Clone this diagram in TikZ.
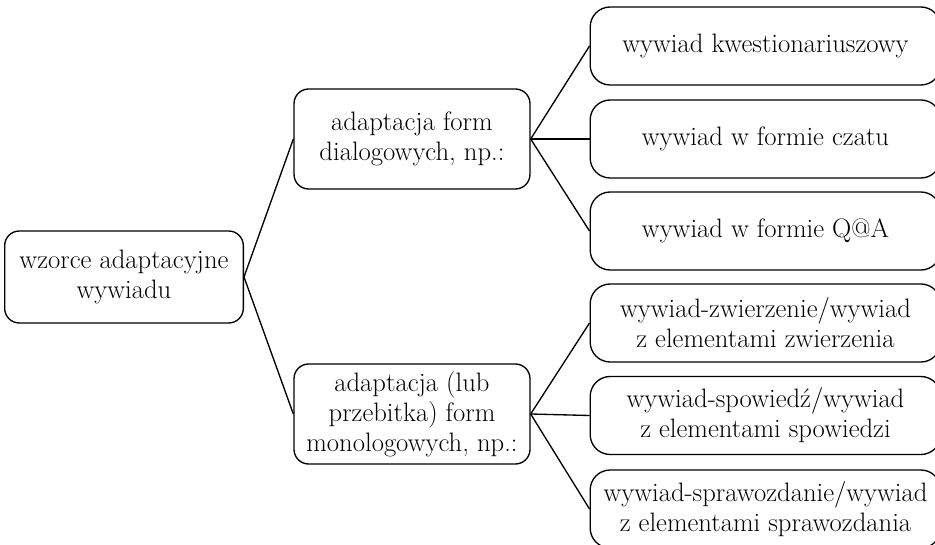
\documentclass[tikz,border=0pt]{standalone}
\usepackage{fontspec}
\usetikzlibrary{positioning}

\tikzset{
  box/.style={draw, rounded corners=11pt, align=center, inner sep=0pt, line width=1pt,
    font=\fontsize{20}{22.5}\selectfont},
  rootbox/.style={box, minimum width=179pt, minimum height=69pt},
  midbox/.style={box, minimum width=177pt, minimum height=75pt},
  leafbox/.style={box, rounded corners=15pt, minimum width=263pt, minimum height=58.5pt},
  link/.style={line width=1pt}
}

\begin{document}
\begin{tikzpicture}[x=0.75pt, y=-0.75pt]
\useasboundingbox (0,0) rectangle (935,545);

\node[rootbox] (wzorce) at (124,277) {wzorce adaptacyjne\\wywiadu};

\node[midbox] (dialog) at (412,139) {adaptacja form\\dialogowych, np.:};
\node[midbox] (monolog) at (412,414) {adaptacja (lub\\przebitka) form\\monologowych, np.:};

\node[leafbox] (kwest) at (765.5,46) {wywiad kwestionariuszowy};
\node[leafbox] (czat) at (765.5,139) {wywiad w formie czatu};
\node[leafbox] (qa) at (765.5,231) {wywiad w formie Q@A};
\node[leafbox] (zwierz) at (765.5,323) {wywiad-zwierzenie/wywiad\\z elementami zwierzenia};
\node[leafbox] (spow) at (765.5,415.5) {wywiad-spowiedź/wywiad\\z elementami spowiedzi};
\node[leafbox] (spraw) at (765.5,509) {wywiad-sprawozdanie/wywiad\\z elementami sprawozdania};

\draw[link] (wzorce.east) -- (dialog.west);
\draw[link] (wzorce.east) -- (monolog.west);
\foreach \leaf in {kwest,czat,qa}
  \draw[link] (dialog.east) -- (\leaf.west);
\foreach \leaf in {zwierz,spow,spraw}
  \draw[link] (monolog.east) -- (\leaf.west);
\end{tikzpicture}
\end{document}
